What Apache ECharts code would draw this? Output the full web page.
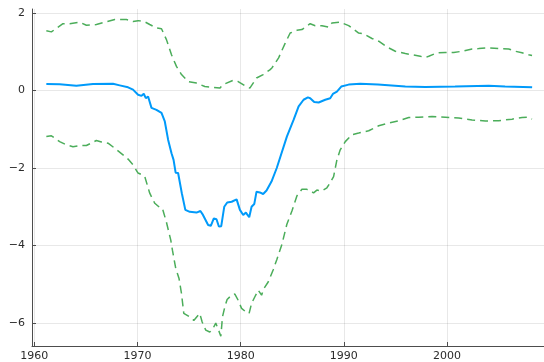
<!DOCTYPE html>
<html>
<head>
<meta charset="utf-8">
<script src="https://cdn.jsdelivr.net/npm/echarts@6/dist/echarts.min.js"></script>
<style>
  html, body { margin: 0; padding: 0; background: #ffffff; }
  #chart { width: 544px; height: 362px; }
</style>
</head>
<body>
<div id="chart"></div>
<script>
// Central estimate (solid line)
const meanYears = [1961.17, 1962.46, 1964.08, 1965.69, 1967.63, 1968.28, 1969.09, 1969.57, 1970.06, 1970.39,
  1970.61, 1970.81, 1971.03, 1971.36, 1971.84, 1972.33, 1972.65, 1972.97, 1973.3, 1973.5,
  1973.7, 1973.94, 1974.3, 1974.64, 1975.07, 1975.72, 1976.1, 1976.35, 1976.85, 1977.11,
  1977.4, 1977.66, 1977.89, 1978.12, 1978.41, 1978.7, 1979.13, 1979.61, 1979.93, 1980.25,
  1980.51, 1980.83, 1981.06, 1981.32, 1981.54, 1981.86, 1982.18, 1982.51, 1982.99, 1983.5,
  1984.48, 1985.13, 1985.62, 1986.1, 1986.52, 1986.74, 1987.13, 1987.56, 1988.2, 1988.68,
  1988.94, 1989.33, 1989.75, 1990.47, 1991.59, 1993.31, 1995.96, 1997.9, 2000.78, 2004.04,
  2005.63, 2008.25];
const meanValues = [0.165, 0.16, 0.12, 0.165, 0.17, 0.13, 0.08, 0.02, -0.11, -0.14,
  -0.085, -0.2, -0.155, -0.45, -0.5, -0.58, -0.8, -1.27, -1.62, -1.79,
  -2.12, -2.13, -2.65, -3.08, -3.13, -3.15, -3.11, -3.21, -3.47, -3.49,
  -3.3, -3.32, -3.51, -3.5, -3.0, -2.89, -2.87, -2.81, -3.08, -3.21,
  -3.15, -3.27, -3.0, -2.93, -2.61, -2.63, -2.67, -2.58, -2.35, -2.0,
  -1.19, -0.76, -0.41, -0.24, -0.18, -0.2, -0.3, -0.31, -0.24, -0.2,
  -0.09, -0.03, 0.1, 0.15, 0.17, 0.15, 0.1, 0.09, 0.1, 0.12,
  0.1, 0.08];

// Upper bound (dashed)
const upperYears = [1961.17, 1961.66, 1962.78, 1963.43, 1964.4, 1965.05, 1966.02, 1966.99, 1967.8, 1968.93,
  1969.57, 1970.06, 1970.71, 1971.19, 1971.84, 1972.33, 1972.81, 1973.3, 1973.78, 1974.27,
  1974.91, 1975.72, 1976.53, 1977.01, 1977.98, 1978.3, 1979.27, 1979.76, 1980.41, 1980.89,
  1981.54, 1982.18, 1982.83, 1983.03, 1983.68, 1984.32, 1984.8, 1985.45, 1985.94, 1986.74,
  1987.23, 1987.88, 1988.53, 1988.85, 1989.65, 1990.47, 1991.44, 1991.92, 1992.73, 1993.38,
  1994.18, 1994.99, 1995.96, 1996.61, 1997.41, 1997.9, 1998.23, 1999.03, 1999.84, 2000.65,
  2001.46, 2002.43, 2003.07, 2004.04, 2005.01, 2005.98, 2006.62, 2007.27, 2007.92, 2008.24];
const upperValues = [1.54, 1.51, 1.72, 1.72, 1.76, 1.68, 1.7, 1.77, 1.83, 1.83,
  1.78, 1.8, 1.77, 1.7, 1.61, 1.59, 1.31, 0.92, 0.62, 0.41,
  0.23, 0.19, 0.1, 0.09, 0.06, 0.15, 0.26, 0.23, 0.12, 0.06,
  0.32, 0.41, 0.53, 0.58, 0.84, 1.22, 1.48, 1.55, 1.57, 1.72,
  1.67, 1.67, 1.63, 1.74, 1.76, 1.67, 1.48, 1.46, 1.34, 1.27,
  1.12, 1.01, 0.95, 0.92, 0.88, 0.85, 0.88, 0.97, 0.98, 0.98,
  1.01, 1.07, 1.08, 1.1, 1.08, 1.07, 1.01, 0.97, 0.92, 0.9];

// Lower bound (dashed)
const lowerYears = [1961.17, 1961.66, 1962.46, 1963.11, 1963.75, 1964.4, 1965.05, 1966.02, 1966.51, 1967.15,
  1967.8, 1968.6, 1969.09, 1969.57, 1970.06, 1970.48, 1970.71, 1971.19, 1971.68, 1972.16,
  1972.42, 1972.81, 1973.23, 1973.39, 1973.71, 1974.03, 1974.27, 1974.49, 1975.07, 1975.46,
  1976.04, 1976.27, 1976.62, 1977.01, 1977.24, 1977.59, 1977.86, 1978.08, 1978.24, 1978.47,
  1978.69, 1979.12, 1979.44, 1979.76, 1980.09, 1980.5, 1980.82, 1981.06, 1981.38, 1981.7,
  1982.03, 1982.25, 1982.67, 1983.15, 1983.51, 1984.0, 1984.48, 1984.97, 1985.45, 1985.94,
  1986.42, 1987.07, 1987.39, 1987.88, 1988.36, 1988.58, 1989.01, 1989.33, 1989.65, 1990.14,
  1990.79, 1991.44, 1992.41, 1993.38, 1994.35, 1995.32, 1996.29, 1997.26, 1998.55, 1999.84,
  2001.13, 2002.43, 2003.72, 2005.01, 2006.3, 2007.27, 2007.76, 2008.24];
const lowerValues = [-1.19, -1.17, -1.32, -1.4, -1.45, -1.42, -1.42, -1.29, -1.33, -1.36,
  -1.49, -1.66, -1.77, -1.92, -2.13, -2.18, -2.22, -2.65, -2.91, -3.02,
  -3.04, -3.4, -3.86, -4.12, -4.59, -4.85, -5.24, -5.75, -5.84, -5.93,
  -5.75, -5.97, -6.18, -6.23, -6.18, -6.0, -6.18, -6.34, -5.84, -5.58,
  -5.39, -5.28, -5.25, -5.41, -5.62, -5.71, -5.75, -5.49, -5.32, -5.15,
  -5.28, -5.11, -4.94, -4.63, -4.36, -3.97, -3.45, -3.11, -2.72, -2.55,
  -2.55, -2.64, -2.57, -2.59, -2.51, -2.42, -2.22, -1.79, -1.53, -1.32,
  -1.14, -1.1, -1.04, -0.91, -0.84, -0.78, -0.7, -0.69, -0.67, -0.69,
  -0.71, -0.76, -0.79, -0.78, -0.74, -0.7, -0.69, -0.74];

// Tick positions
const xTicks = [1960, 1970, 1980, 1990, 2000];
const yTicks = [-6, -4, -2, 0, 2];

const pairs = (xs, ys) => xs.map((x, i) => [x, ys[i]]);

const axisColor = '#4d4d4d';
const gridColor = 'rgba(0,0,0,0.09)';
const labelFont = { fontFamily: 'DejaVu Sans', fontSize: 11, color: '#2b2b2b' };
const bandColor = '#4BAD5A';
const meanColor = '#009AFA';

const chart = echarts.init(document.getElementById('chart'), null, { renderer: 'canvas' });
chart.setOption({
  animation: false,
  backgroundColor: '#ffffff',
  grid: { left: 32, top: 9, right: 0, bottom: 16, containLabel: false },
  xAxis: {
    type: 'value',
    min: 1959.78,
    max: 2009.4,
    axisLine: { show: true, onZero: false, lineStyle: { color: axisColor, width: 1 } },
    axisTick: { show: true, inside: true, length: 4, customValues: xTicks, lineStyle: { color: axisColor } },
    axisLabel: Object.assign({ customValues: xTicks, margin: 5, formatter: v => String(v) }, labelFont),
    splitLine: { show: true, lineStyle: { color: gridColor, width: 1 } }
  },
  yAxis: {
    type: 'value',
    min: -6.59,
    max: 2.1,
    axisLine: { show: true, onZero: false, lineStyle: { color: axisColor, width: 1 } },
    axisTick: { show: true, inside: true, length: 4, customValues: yTicks, lineStyle: { color: axisColor } },
    axisLabel: Object.assign({ customValues: yTicks, margin: 7, formatter: v => String(v).replace('-', '\u2212') }, labelFont),
    splitLine: { show: true, lineStyle: { color: gridColor, width: 1 } }
  },
  series: [
    {
      name: 'upper', type: 'line', data: pairs(upperYears, upperValues),
      showSymbol: false, symbol: 'none',
      lineStyle: { color: bandColor, width: 1.5, type: [8, 5] }
    },
    {
      name: 'lower', type: 'line', data: pairs(lowerYears, lowerValues),
      showSymbol: false, symbol: 'none',
      lineStyle: { color: bandColor, width: 1.5, type: [8, 5] }
    },
    {
      name: 'mean', type: 'line', data: pairs(meanYears, meanValues),
      showSymbol: false, symbol: 'none',
      lineStyle: { color: meanColor, width: 2 }
    }
  ]
});
</script>
</body>
</html>
